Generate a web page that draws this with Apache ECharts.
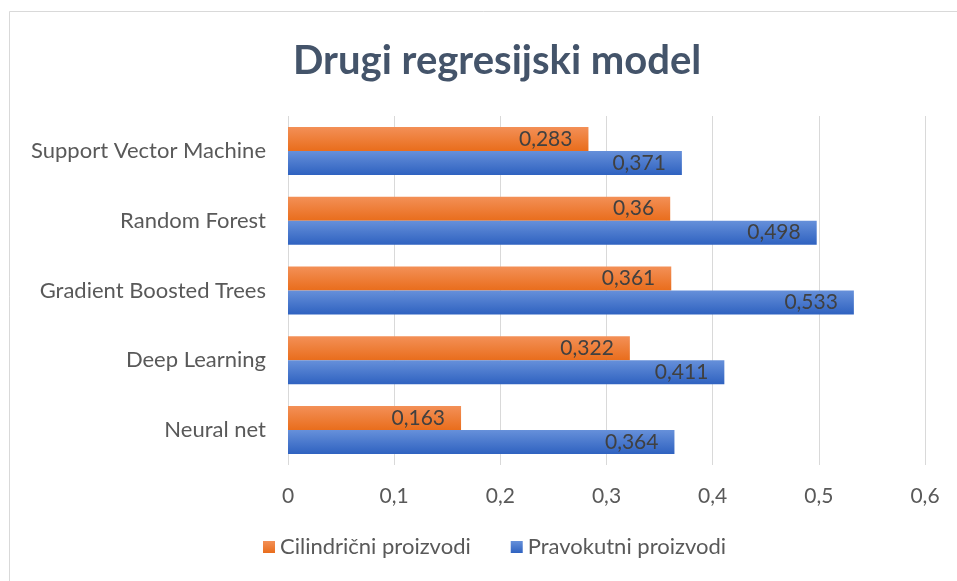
<!DOCTYPE html>
<html>
<head>
<meta charset="utf-8">
<script src="https://cdn.jsdelivr.net/npm/echarts@6/dist/echarts.min.js"></script>
<style>
  body { margin: 0; background: #fff; }
  #chart { width: 957px; height: 581px; }
</style>
</head>
<body>
<div id="chart"></div>
<script>
// podaci (odozdo prema gore)
var modeli = ['Neural net', 'Deep Learning', 'Gradient Boosted Trees', 'Random Forest', 'Support Vector Machine'];
var cilindricni = [0.163, 0.322, 0.361, 0.36, 0.283];
var pravokutni = [0.364, 0.411, 0.533, 0.498, 0.371];
var xTicks = [0, 0.1, 0.2, 0.3, 0.4, 0.5, 0.6];

var myChart = echarts.init(document.getElementById('chart'));

function zarez(v) {
  return String(v).replace('.', ',');
}

var labelStyle = {
  show: true,
  position: 'insideRight',
  distance: 16,
  color: '#404040',
  fontSize: 21,
  fontFamily: 'Lato',
  formatter: function (p) { return zarez(p.value); }
};

var option = {
  backgroundColor: '#fff',
  title: {
    text: 'Drugi regresijski model',
    left: 288,
    top: 36,
    textStyle: { fontFamily: 'Lato', fontWeight: 'bold', fontSize: 40, color: '#44546A' }
  },
  graphic: [{
    type: 'rect',
    shape: { x: 9.5, y: 11.5, width: 960, height: 580 },
    style: { fill: 'none', stroke: '#d9d9d9', lineWidth: 1 }
  }],
  legend: {
    data: ['Cilindrični proizvodi', 'Pravokutni proizvodi'],
    bottom: 18,
    left: 258,
    itemWidth: 12,
    itemHeight: 12,
    itemGap: 40,
    icon: 'rect',
    textStyle: { fontFamily: 'Lato', fontSize: 22, color: '#595959' }
  },
  grid: { left: 288, right: 32, top: 116, bottom: 116 },
  xAxis: {
    type: 'value',
    min: 0,
    max: 0.6,
    interval: 0.1,
    axisLine: { show: false },
    axisTick: { show: false },
    splitLine: { lineStyle: { color: '#d9d9d9' } },
    axisLabel: {
      margin: 21,
      color: '#595959',
      fontFamily: 'Lato',
      fontSize: 21,
      formatter: function (v) {
        return xTicks.indexOf(Math.round(v * 10) / 10) >= 0 ? zarez(Math.round(v * 10) / 10) : '';
      }
    }
  },
  yAxis: {
    type: 'category',
    data: modeli,
    axisLine: { show: false },
    axisTick: { show: false },
    axisLabel: { margin: 22, color: '#595959', fontFamily: 'Lato', fontSize: 22 }
  },
  series: [
    {
      name: 'Cilindrični proizvodi',
      type: 'bar',
      data: cilindricni,
      barWidth: 24,
      barGap: '0%',
      itemStyle: {
        color: new echarts.graphic.LinearGradient(0, 0, 0, 1, [
          { offset: 0, color: '#F39057' },
          { offset: 1, color: '#E96D1C' }
        ])
      },
      label: labelStyle
    },
    {
      name: 'Pravokutni proizvodi',
      type: 'bar',
      data: pravokutni,
      barWidth: 24,
      barGap: '0%',
      itemStyle: {
        color: new echarts.graphic.LinearGradient(0, 0, 0, 1, [
          { offset: 0, color: '#6690DA' },
          { offset: 1, color: '#2F62C0' }
        ])
      },
      label: labelStyle
    }
  ]
};

myChart.setOption(option);
</script>
</body>
</html>
